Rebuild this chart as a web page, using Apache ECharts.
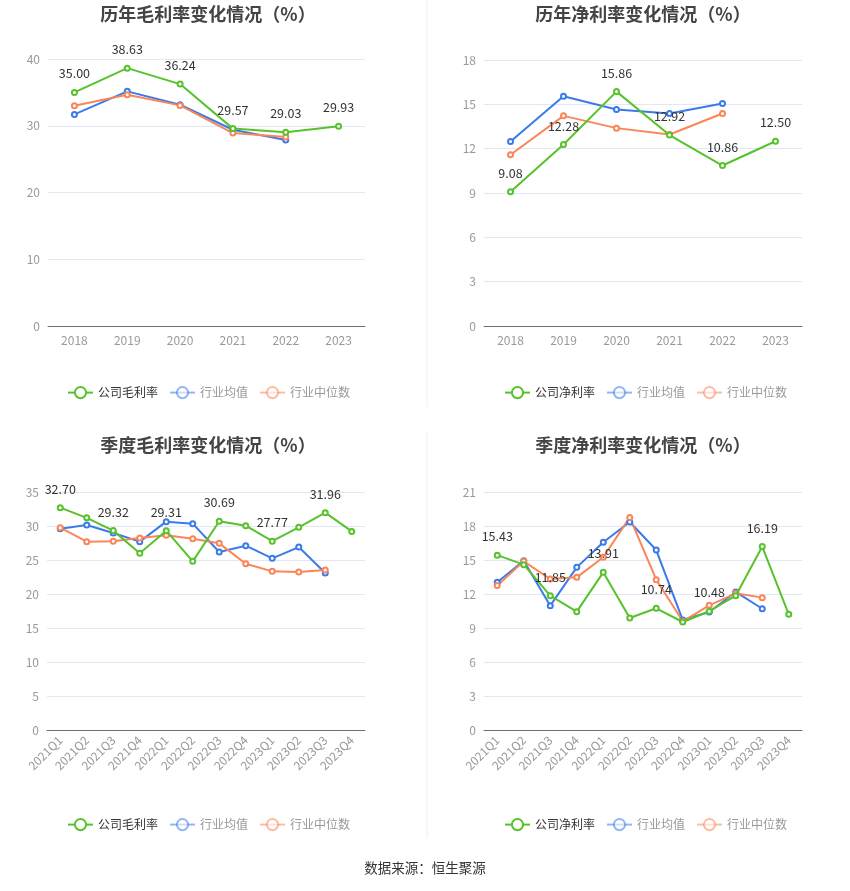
<!DOCTYPE html>
<html>
<head>
<meta charset="utf-8">
<script src="https://cdn.jsdelivr.net/npm/echarts@6/dist/echarts.min.js"></script>
<style>
html, body { margin: 0; padding: 0; background: #fff; }
#main { width: 850px; height: 891px; }
</style>
</head>
<body>
<div id="main"></div>
<script>
var years = ['2018', '2019', '2020', '2021', '2022', '2023'];
var quarters = ['2021Q1', '2021Q2', '2021Q3', '2021Q4', '2022Q1', '2022Q2', '2022Q3', '2022Q4', '2023Q1', '2023Q2', '2023Q3', '2023Q4'];

// 历年毛利率
var grossCompany = [35.00, 38.63, 36.24, 29.57, 29.03, 29.93];
var grossAvg = [31.7, 35.15, 33.15, 29.4, 27.85];
var grossMedian = [33.0, 34.65, 33.05, 28.9, 28.3];

// 历年净利率
var netCompany = [9.08, 12.28, 15.86, 12.92, 10.86, 12.50];
var netAvg = [12.49, 15.55, 14.65, 14.38, 15.05];
var netMedian = [11.59, 14.22, 13.39, 12.96, 14.38];

// 季度毛利率
var qGrossCompany = [32.70, 31.2, 29.32, 26.0, 29.31, 24.8, 30.69, 30.05, 27.77, 29.8, 31.96, 29.2];
var qGrossAvg = [29.6, 30.15, 28.97, 27.7, 30.64, 30.34, 26.18, 27.1, 25.25, 26.9, 23.1];
var qGrossMedian = [29.75, 27.7, 27.75, 28.24, 28.63, 28.14, 27.45, 24.46, 23.33, 23.24, 23.53];

// 季度净利率
var qNetCompany = [15.43, 14.59, 11.85, 10.44, 13.91, 9.88, 10.74, 9.53, 10.48, 11.85, 16.19, 10.21];
var qNetAvg = [13.03, 14.94, 10.97, 14.35, 16.56, 18.35, 15.88, 9.7, 10.41, 12.18, 10.7];
var qNetMedian = [12.74, 14.88, 13.32, 13.47, 15.24, 18.76, 13.26, 9.59, 11.0, 12.06, 11.68];

var titles = ['历年毛利率变化情况（%）', '历年净利率变化情况（%）', '季度毛利率变化情况（%）', '季度净利率变化情况（%）'];
var green = '#57c22c', blue = '#3b7ae8', orange = '#fa8658';

var grids = [
    { left: 48, top: 59, width: 317, height: 267 },
    { left: 484, top: 60, width: 318, height: 266 },
    { left: 47, top: 492, width: 318, height: 238 },
    { left: 484, top: 492, width: 318, height: 238 }
];
var yMax = [40, 18, 35, 21];
var yInt = [10, 3, 5, 3];

var myChart = echarts.init(document.getElementById('main'));

var option = {
    backgroundColor: '#fff',
    animation: false,
    textStyle: { fontFamily: 'Noto Sans CJK SC, sans-serif' },
    title: [],
    legend: [],
    grid: grids,
    xAxis: [],
    yAxis: [],
    series: [],
    graphic: [
        { type: 'line', shape: { x1: 427, y1: 0, x2: 427, y2: 407 }, style: { stroke: '#eeeeee', lineWidth: 1 } },
        { type: 'line', shape: { x1: 427, y1: 431, x2: 427, y2: 838 }, style: { stroke: '#eeeeee', lineWidth: 1 } },
        { type: 'text', left: 'center', top: 861, style: { text: '数据来源：恒生聚源', fill: '#333', fontSize: 13.5, fontFamily: 'Noto Sans CJK SC' } }
    ]
};

var titleCenters = [[203, 0], [638, 0], [203, 431], [638, 431]];
var legendPos = [[62, 381], [499, 381], [62, 813], [499, 813]];
var names = [['公司毛利率', '行业均值', '行业中位数'], ['公司净利率', '行业均值', '行业中位数'],
             ['公司毛利率', '行业均值', '行业中位数'], ['公司净利率', '行业均值', '行业中位数']];
var dataSets = [
    [grossCompany, grossAvg, grossMedian],
    [netCompany, netAvg, netMedian],
    [qGrossCompany, qGrossAvg, qGrossMedian],
    [qNetCompany, qNetAvg, qNetMedian]
];

for (var i = 0; i < 4; i++) {
    option.title.push({
        text: titles[i],
        left: titleCenters[i][0],
        top: titleCenters[i][1],
        textAlign: 'center',
        textStyle: { fontSize: 18, fontWeight: 'bold', color: '#444', fontFamily: 'Noto Sans CJK SC' }
    });
    option.legend.push({
        left: legendPos[i][0],
        top: legendPos[i][1],
        orient: 'horizontal',
        itemWidth: 25,
        itemHeight: 14,
        itemGap: 11,
        selectedMode: false,
        textStyle: { fontSize: 12, color: '#333', fontFamily: 'Noto Sans CJK SC' },
        data: [
            { name: names[i][0] },
            { name: names[i][1], itemStyle: { opacity: 0.55 }, lineStyle: { opacity: 0.55 }, textStyle: { color: '#999' } },
            { name: names[i][2], itemStyle: { opacity: 0.55 }, lineStyle: { opacity: 0.55 }, textStyle: { color: '#999' } }
        ]
    });
    var quarterly = i >= 2;
    option.xAxis.push({
        type: 'category',
        gridIndex: i,
        data: quarterly ? quarters : years,
        boundaryGap: true,
        axisLine: { lineStyle: { color: '#6e7079' } },
        axisTick: { alignWithLabel: true, lineStyle: { color: '#6e7079' } },
        axisLabel: { color: '#999', fontSize: 12, rotate: quarterly ? 45 : 0, interval: 0, margin: 8 }
    });
    option.yAxis.push({
        type: 'value',
        gridIndex: i,
        min: 0,
        max: yMax[i],
        interval: yInt[i],
        axisLine: { show: false },
        axisTick: { show: false },
        axisLabel: { color: '#999', fontSize: 12 },
        splitLine: { lineStyle: { color: '#e3e7f5' } }
    });
    var cols = [green, blue, orange];
    for (var s = 0; s < 3; s++) {
        var ser = {
            name: names[i][s],
            type: 'line',
            xAxisIndex: i,
            yAxisIndex: i,
            data: dataSets[i][s],
            symbol: 'emptyCircle',
            symbolSize: 5,
            z: s === 0 ? 3 : 2,
            itemStyle: { color: cols[s], borderWidth: 2 },
            lineStyle: { color: cols[s], width: 2 }
        };
        if (s === 0) {
            ser.label = {
                show: true,
                position: 'top',
                distance: 9,
                color: '#333',
                fontSize: 12.5,
                formatter: quarterly ? function (p) {
                    return p.dataIndex % 2 === 0 ? p.value.toFixed(2) : '';
                } : function (p) {
                    return p.value.toFixed(2);
                }
            };
        }
        option.series.push(ser);
    }
}

myChart.setOption(option);
</script>
</body>
</html>
